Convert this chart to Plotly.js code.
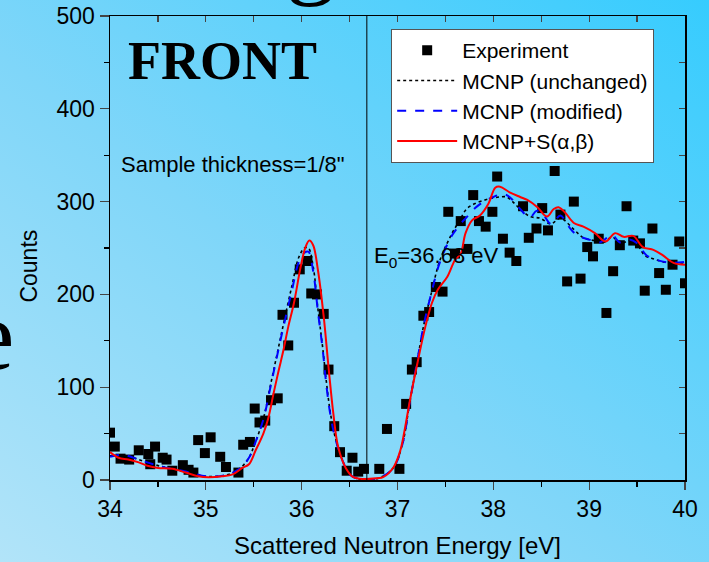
<!DOCTYPE html>
<html><head><meta charset="utf-8">
<script src="https://cdn.plot.ly/plotly-3.0.1.min.js"></script>
<style>
html,body{margin:0;padding:0;}
body{width:709px;height:562px;overflow:hidden;background:linear-gradient(to top right,#b2e4f9 0%,#7fd6f9 45%,#36ccfe 100%);}
#chart{width:709px;height:562px;}
</style></head><body><div id="chart"></div>
<script>
// Experiment points
const expE = [34.00,34.05,34.11,34.20,34.30,34.40,34.47,34.42,34.55,34.59,34.65,34.76,34.82,34.87,34.92,34.99,35.05,35.15,35.21,35.34,35.39,35.46,35.51,35.56,35.62,35.68,35.75,35.80,35.86,35.92,35.98,36.06,36.10,36.16,36.23,36.28,36.34,36.40,36.47,36.53,36.59,36.65,36.81,36.89,37.02,37.09,37.15,37.20,37.27,37.33,37.40,37.47,37.53,37.60,37.66,37.73,37.79,37.85,37.92,37.99,38.04,38.10,38.17,38.24,38.31,38.37,38.45,38.51,38.57,38.64,38.70,38.77,38.84,38.91,38.98,39.04,39.10,39.18,39.25,39.32,39.39,39.46,39.53,39.58,39.66,39.73,39.80,39.87,39.94,40.00];
const expC = [51,36,23,22,32,28,36,17,24,22,10,16,11,8,43,29,46,25,14,8,38,41,77,62,64,86,88,178,145,191,227,236,201,200,179,119,58,30,10,24,9,12,12,55,12,82,119,127,177,181,208,203,289,244,279,249,307,279,273,289,327,260,245,236,295,261,271,293,269,333,286,214,300,217,251,241,260,180,225,253,295,258,255,204,271,223,205,232,257,212];

// MCNP (unchanged)
const unchE = [34.00,34.14,34.30,34.45,34.60,34.80,35.00,35.20,35.35,35.45,35.50,35.60,35.67,35.74,35.81,35.90,35.97,36.03,36.07,36.12,36.17,36.22,36.26,36.30,36.35,36.43,36.50,36.60,36.68,36.80,36.95,37.05,37.13,37.20,37.28,37.35,37.44,37.56,37.65,37.72,37.81,37.92,38.00,38.07,38.14,38.20,38.28,38.38,38.49,38.60,38.70,38.84,38.94,39.05,39.15,39.24,39.32,39.43,39.50,39.58,39.68,39.77,39.88,40.00];
const unchC = [26,27,22,17,13,9,4,5,12,24,36,66,100,134,168,210,240,250,250,230,184,142,104,72,46,20,6,1,0,2,12,38,85,125,170,200,236,264,280,292,298,302,304,305,305,300,292,284,282,276,282,270,261,258,256,262,255,258,254,242,238,235,234,234];

// MCNP (modified)
const modE = [34.00,34.14,34.30,34.45,34.60,34.80,35.00,35.20,35.35,35.45,35.50,35.60,35.67,35.74,35.81,35.90,35.97,36.03,36.07,36.12,36.17,36.22,36.26,36.30,36.35,36.43,36.50,36.60,36.68,36.80,36.95,37.05,37.13,37.20,37.28,37.35,37.44,37.56,37.65,37.72,37.81,37.90,38.00,38.08,38.14,38.20,38.28,38.38,38.45,38.50,38.60,38.70,38.78,38.87,39.00,39.11,39.24,39.32,39.43,39.50,39.60,39.71,39.85,40.00];
const modC = [25,27,22,17,13,9,4,5,12,24,36,65,98,132,165,205,235,245,246,225,181,140,100,70,45,20,6,1,0,2,12,38,85,125,170,200,234,262,275,283,293,300,305,308,307,302,292,283,290,289,276,285,274,264,259,256,264,256,259,255,242,237,234,235];

// MCNP+S(alpha,beta)
const sabE = [34.00,34.09,34.19,34.30,34.40,34.50,34.65,34.79,34.92,35.03,35.17,35.28,35.38,35.45,35.52,35.60,35.65,35.71,35.76,35.81,35.86,35.92,35.99,36.04,36.08,36.12,36.17,36.23,36.28,36.33,36.38,36.46,36.54,36.65,36.79,36.85,36.96,37.03,37.08,37.13,37.20,37.29,37.36,37.42,37.52,37.60,37.66,37.71,37.78,37.86,37.95,38.02,38.07,38.17,38.28,38.35,38.46,38.56,38.63,38.68,38.75,38.84,38.94,39.06,39.17,39.27,39.36,39.46,39.56,39.67,39.77,39.88,40.00];
const sabC = [30,24,22,19,15,13,12,8,4,3,4,6,13,17,32,50,66,95,118,140,165,191,230,251,258,253,226,176,122,72,36,13,3,1,2,3,14,32,57,86,122,165,191,205,219,237,244,266,280,285,298,315,316,310,305,302,294,284,292,294,288,277,273,266,257,266,262,263,251,248,242,234,232];

const xTicks = [34,35,36,37,38,39,40];
const yTicks = [0,100,200,300,400,500];
const E0 = 36.68;

const AR = 'Arial, "Liberation Sans", sans-serif';
const TR = '"Times New Roman", "Liberation Serif", serif';

const traces = [
  {x: expE, y: expC, type:'scatter', mode:'markers', name:'Experiment',
   marker:{symbol:'square', size:10, color:'#000'}},
  {x: unchE, y: unchC, type:'scatter', mode:'lines', name:'MCNP (unchanged)', line:{color:'#000', width:1.6, dash:'dot', shape:'spline'}},
  {x: modE, y: modC, type:'scatter', mode:'lines', name:'MCNP (modified)', line:{color:'#0000ff', width:2, dash:'dash', shape:'spline'}},
  {x: sabE, y: sabC, type:'scatter', mode:'lines', name:'MCNP+S(α,β)', line:{color:'#ff0000', width:2, shape:'spline'}},
  {x:[34,40], y:[0,0], xaxis:'x2', yaxis:'y2', mode:'lines', line:{width:0}, showlegend:false, hoverinfo:'skip'}
];

const layout = {
  width:709, height:562,
  margin:{l:109.5, r:24, t:16, b:82},
  paper_bgcolor:'rgba(0,0,0,0)', plot_bgcolor:'rgba(0,0,0,0)',
  font:{family:AR, color:'#000'},
  showlegend:true,
  legend:{x:0.489, y:0.972, xanchor:'left', yanchor:'top', bgcolor:'#ffffff', bordercolor:'#555', borderwidth:1,
          font:{family:AR, size:21, color:'#000'}, itemwidth:60, tracegroupgap:0},
  xaxis:{range:[34,40], tickvals:xTicks, ticktext:xTicks.map(String), ticks:'outside', ticklen:8, tickwidth:1.3,
         showline:true, linecolor:'#000', linewidth:1.5, showgrid:false, zeroline:false,
         tickfont:{family:AR, size:23}, minor:{dtick:0.5, ticks:'outside', ticklen:5, tickwidth:1.3, tickcolor:'#000'},
         title:{text:'Scattered Neutron Energy [eV]', font:{family:AR, size:24}, standoff:16}},
  yaxis:{range:[0,500], tickvals:yTicks, ticktext:yTicks.map(String), ticks:'outside', ticklen:9, tickwidth:1.3,
         showline:true, linecolor:'#000', linewidth:1.5, showgrid:false, zeroline:false,
         tickfont:{family:AR, size:23}, minor:{dtick:50, ticks:'outside', ticklen:5, tickwidth:1.3, tickcolor:'#000'}},
  xaxis2:{range:[34,40], overlaying:'x', side:'top', anchor:'y2', dtick:0.5, ticks:'inside', ticklen:6, tickwidth:1.3,
          showticklabels:false, showline:true, linecolor:'#000', linewidth:1.5, showgrid:false, zeroline:false},
  yaxis2:{range:[0,500], overlaying:'y', side:'right', anchor:'x2', dtick:50, ticks:'inside', ticklen:6, tickwidth:1.3,
          showticklabels:false, showline:true, linecolor:'#000', linewidth:1.5, showgrid:false, zeroline:false},
  shapes:[{type:'line', xref:'x', yref:'y', x0:E0, x1:E0, y0:0, y1:500, line:{color:'#000', width:1}}],
  annotations:[
    {text:'Counts', xref:'paper', yref:'paper', x:(28-109.5)/575.5, y:(480-266)/464, textangle:-90,
     showarrow:false, font:{family:AR, size:23}, xanchor:'center', yanchor:'middle'},
    {text:'<b>FRONT</b>', xref:'paper', yref:'paper', x:(126-109.5)/575.5, y:(480-61)/464, showarrow:false,
     xanchor:'left', yanchor:'middle', font:{family:TR, size:54}},
    {text:'Sample thickness=1/8"', xref:'paper', yref:'paper', x:(119-109.5)/575.5, y:(480-165)/464, showarrow:false,
     xanchor:'left', yanchor:'middle', font:{family:AR, size:22}},
    {text:'E<sub>0</sub>=' + E0 + ' eV', xref:'x', yref:'y', x:36.735, y:240, showarrow:false,
     xanchor:'left', yanchor:'middle', font:{family:AR, size:22}},
    {text:'g', xref:'paper', yref:'paper', x:(311-109.5)/575.5, y:(480-10)/464, showarrow:false,
     xanchor:'center', yanchor:'bottom', font:{family:TR, size:100}},
    {text:'e', xref:'paper', yref:'paper', x:(15-109.5)/575.5, y:(480-393)/464, showarrow:false,
     xanchor:'right', yanchor:'bottom', font:{family:TR, size:100}}
  ]
};

Plotly.newPlot('chart', traces, layout, {displayModeBar:false, staticPlot:true});
</script></body></html>
